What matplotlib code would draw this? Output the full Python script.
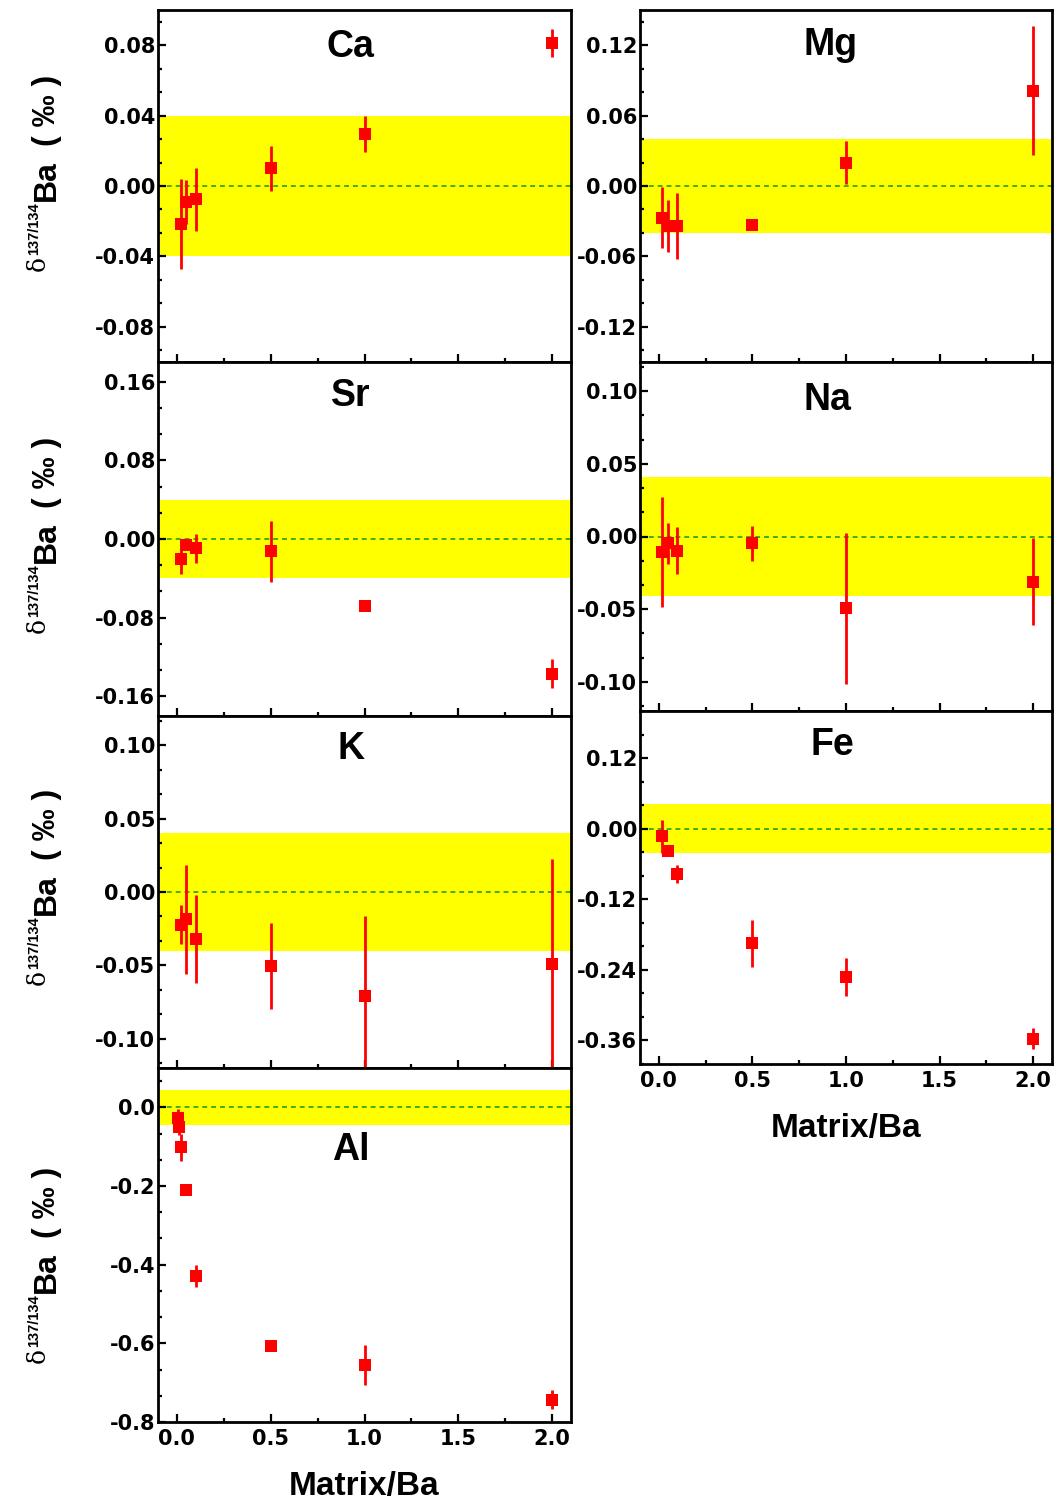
import matplotlib
matplotlib.use('Agg')
import matplotlib.pyplot as plt
from matplotlib.ticker import MultipleLocator, AutoMinorLocator, FuncFormatter

plt.rcParams['axes.unicode_minus'] = False

# ---------------- data ----------------
x_main = [0.02, 0.05, 0.1, 0.5, 1.0, 2.0]
x_al = [0.005, 0.01, 0.02, 0.05, 0.1, 0.5, 1.0, 2.0]

ca_y = [-0.0216, -0.0089, -0.0076, 0.010, 0.0295, 0.0813]
ca_err = [0.0255, 0.0125, 0.018, 0.013, 0.010, 0.008]

mg_y = [-0.027, -0.034, -0.034, -0.0335, 0.020, 0.081]
mg_err = [0.026, 0.022, 0.028, 0.003, 0.018, 0.055]

sr_y = [-0.020, -0.006, -0.0095, -0.0126, -0.068, -0.137]
sr_err = [0.016, 0.005, 0.015, 0.031, 0.003, 0.015]

na_y = [-0.0107, -0.0046, -0.0098, -0.0046, -0.0495, -0.0312]
na_err = [0.038, 0.014, 0.016, 0.012, 0.052, 0.030]

k_y = [-0.0222, -0.0186, -0.0322, -0.0504, -0.0711, -0.0493]
k_err = [0.013, 0.037, 0.030, 0.0295, 0.055, 0.072]

fe_y = [-0.013, -0.0375, -0.0773, -0.195, -0.252, -0.357]
fe_err = [0.028, 0.005, 0.015, 0.040, 0.032, 0.018]

al_y = [-0.028, -0.051, -0.102, -0.211, -0.429, -0.606, -0.654, -0.743]
al_err = [0.023, 0.020, 0.034, 0.010, 0.027, 0.008, 0.051, 0.025]

names = ['Ca', 'Mg', 'Sr', 'Na', 'K', 'Fe', 'Al']
band_half = [0.04, 0.04, 0.04, 0.041, 0.04, 0.042, 0.045]
ylims = [(-0.10, 0.10), (-0.15, 0.15), (-0.18, 0.18), (-0.12, 0.12),
         (-0.12, 0.12), (-0.40, 0.20), (-0.80, 0.10)]
y_major = [0.04, 0.06, 0.08, 0.05, 0.05, 0.12, 0.2]
y_dec = [2, 2, 2, 2, 2, 2, 1]
xs = [x_main, x_main, x_main, x_main, x_main, x_main, x_al]
ys = [ca_y, mg_y, sr_y, na_y, k_y, fe_y, al_y]
errs = [ca_err, mg_err, sr_err, na_err, k_err, fe_err, al_err]

x_ticks = [0.0, 0.5, 1.0, 1.5, 2.0]
x_label = 'Matrix/Ba'

# ---------------- layout (pixels of the 1056x1508 canvas) ----------------
W, H = 1056, 1508
LX0, LX1 = 158, 571
RX0, RX1 = 640, 1052
rects = {
    'Ca': (LX0, 10, LX1, 362),
    'Mg': (RX0, 10, RX1, 362),
    'Sr': (LX0, 362, LX1, 716),
    'Na': (RX0, 362, RX1, 711),
    'K': (LX0, 716, LX1, 1068),
    'Fe': (RX0, 711, RX1, 1064),
    'Al': (LX0, 1068, LX1, 1422),
}
title_pos = {'Ca': (0.467, 0.895), 'Mg': (0.462, 0.9), 'Sr': (0.467, 0.905),
             'Na': (0.455, 0.89), 'K': (0.467, 0.905), 'Fe': (0.468, 0.905),
             'Al': (0.467, 0.768)}
ylabel_center = {'Ca': 173, 'Sr': 535, 'K': 887, 'Al': 1265}
bottom_panels = ['Fe', 'Al']

fig = plt.figure(figsize=(W / 100, H / 100), dpi=100)

SANS = ['Liberation Sans', 'DejaVu Sans']
TICKFONT = ['DejaVu Sans']


def make_fmt(dec):
    def f(v, p):
        v = round(v, dec)
        if abs(v) < 1e-12:
            v = 0.0
        return f'{v:.{dec}f}'
    return FuncFormatter(f)


for i, name in enumerate(names):
    x0, y0, x1, y1 = rects[name]
    ax = fig.add_axes([x0 / W, 1 - y1 / H, (x1 - x0) / W, (y1 - y0) / H])
    lo, hi = ylims[i]
    ax.set_xlim(-0.1, 2.1)
    ax.set_ylim(lo, hi)
    ax.axhspan(-band_half[i], band_half[i], color='#ffff00', lw=0, zorder=0)
    ax.axhline(0, color='#119911', lw=1.1, dashes=(3.2, 2.6), zorder=1)
    ax.errorbar(xs[i], ys[i], yerr=errs[i], fmt='s', ms=8, mfc='#ff0000',
                mec='#ff0000', mew=0, ecolor='#ff0000', elinewidth=2.0,
                capsize=0, zorder=3)
    ax.set_xticks(x_ticks)
    ax.xaxis.set_minor_locator(AutoMinorLocator(2))
    ax.yaxis.set_major_locator(MultipleLocator(y_major[i]))
    ax.yaxis.set_minor_locator(AutoMinorLocator(3))
    ax.yaxis.set_major_formatter(make_fmt(y_dec[i]))
    ax.xaxis.set_major_formatter(make_fmt(1))
    for sp in ax.spines.values():
        sp.set_linewidth(2.0)
    ax.tick_params(which='both', direction='in', top=False, right=False,
                   width=1.6)
    ax.tick_params(which='major', length=6)
    ax.tick_params(which='minor', length=3.2)
    ax.tick_params(axis='y', pad=2)
    ax.tick_params(axis='x', pad=5)
    for lab in ax.get_yticklabels() + ax.get_xticklabels():
        lab.set_fontfamily(TICKFONT)
        lab.set_fontweight('bold')
        lab.set_fontsize(15)
    if name in bottom_panels:
        ax.set_xlabel(x_label, fontsize=24, fontweight='bold', family=SANS,
                      labelpad=16)
    else:
        ax.tick_params(axis='x', labelbottom=False)
    tx, ty = title_pos[name]
    ax.text(tx, ty, name, transform=ax.transAxes, ha='center', va='center',
            fontsize=27, fontweight='bold', family=SANS)


# ---------------- rotated composite y labels ----------------
def rot_label(base_x, y_center, pieces):
    renderer = fig.canvas.get_renderer()
    items = []
    for (s, size, weight, fam, rz, gap) in pieces:
        t = fig.text(0, 0, s, rotation=90, rotation_mode='anchor', ha='left',
                     va='baseline', fontsize=size, fontweight=weight, family=fam)
        L = t.get_window_extent(renderer).height
        items.append((t, L, rz, gap))
    total = sum(L + g for _, L, _, g in items)
    cur = (H - y_center) - total / 2
    for t, L, rz, gap in items:
        cur += gap
        t.set_position(((base_x - rz) / W, cur / H))
        cur += L


label_pieces = [
    ('δ', 18, 'normal', ['DejaVu Serif'], 10, 0),
    ('137/134', 10.5, 'bold', SANS, 17, 1),
    ('Ba', 23, 'bold', SANS, 0, 1),
    ('( ‰ )', 23, 'bold', SANS, 0, 14),
]
for name, yc in ylabel_center.items():
    rot_label(55, yc, label_pieces)

fig.savefig('out.png', dpi=100)
